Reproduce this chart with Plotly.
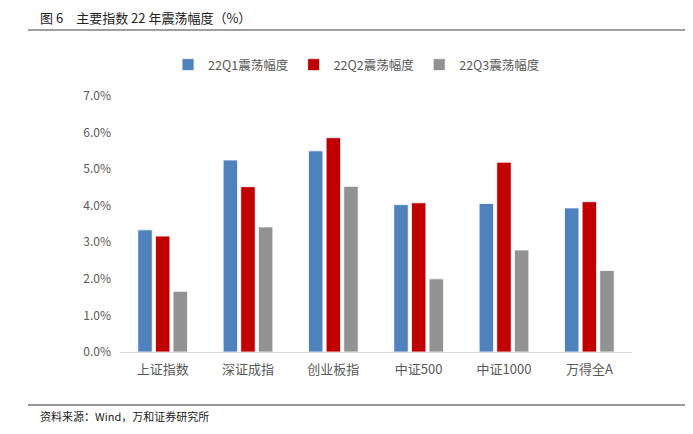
import plotly.graph_objects as go

categories = ["上证指数", "深证成指", "创业板指", "中证500", "中证1000", "万得全A"]
q1 = [3.34, 5.25, 5.50, 4.03, 4.06, 3.94]
q2 = [3.17, 4.52, 5.86, 4.08, 5.19, 4.11]
q3 = [1.66, 3.42, 4.53, 2.00, 2.79, 2.23]
series_names = ["22Q1震荡幅度", "22Q2震荡幅度", "22Q3震荡幅度"]
colors = ["#4F81BD", "#C00000", "#929292"]
tick_vals = [0, 1, 2, 3, 4, 5, 6, 7]
tick_text = ["0.0%", "1.0%", "2.0%", "3.0%", "4.0%", "5.0%", "6.0%", "7.0%"]

FONT = "Noto Sans CJK SC"
O = 8  # page body margin offset
W, H = 693 - O, 434 - O
L, R, T, B = 120 - O, 61, 96 - O, 82
pw, ph = W - L - R, H - T - B

def px(x):
    return (x - O - L) / pw

def py(y):
    return (H - B - (y - O)) / ph

fig = go.Figure()
for name, vals, c in zip(series_names, [q1, q2, q3], colors):
    fig.add_trace(go.Bar(
        x=categories, y=vals, name=name,
        marker=dict(color=c, line=dict(color="rgba(255,255,255,0.8)", width=1)),
    ))

fig.update_layout(
    width=W, height=H,
    margin=dict(l=L, r=R, t=T, b=B),
    paper_bgcolor="white", plot_bgcolor="white",
    barmode="group", bargap=0.38, bargroupgap=0.18,
    font=dict(family=FONT, color="#595959", size=12),
    showlegend=True,
    legend=dict(orientation="h", x=0.462, xanchor="center", y=py(65), yanchor="middle",
                font=dict(size=12.5, color="#595959"), itemwidth=30,
                traceorder="normal"),
    xaxis=dict(showgrid=False, showline=True, linecolor="#D9D9D9", linewidth=1,
               ticks="", tickfont=dict(size=13, color="#595959"), ticklabelstandoff=5),
    yaxis=dict(range=[0, 7], tickvals=tick_vals, ticktext=tick_text,
               showgrid=False, showline=False, zeroline=False, ticks="",
               tickfont=dict(size=12, color="#595959"), ticklabelstandoff=8),
)

fig.add_annotation(text="图 6　主要指数 22 年震荡幅度（%）", xref="paper", yref="paper",
                   x=px(38), y=py(17), xanchor="left", yanchor="middle", showarrow=False,
                   font=dict(size=13, color="#222222", family=FONT))
fig.add_annotation(text="资料来源：Wind，万和证券研究所", xref="paper", yref="paper",
                   x=px(38), y=py(416), xanchor="left", yanchor="middle", showarrow=False,
                   font=dict(size=11, color="#222222", family=FONT))
fig.add_shape(type="line", xref="paper", yref="paper", x0=px(28), x1=px(690),
              y0=py(30), y1=py(30), line=dict(color="#404040", width=1.2))
fig.add_shape(type="line", xref="paper", yref="paper", x0=px(28), x1=px(691),
              y0=py(405), y1=py(405), line=dict(color="#999999", width=2))

fig.write_html("out.html")
